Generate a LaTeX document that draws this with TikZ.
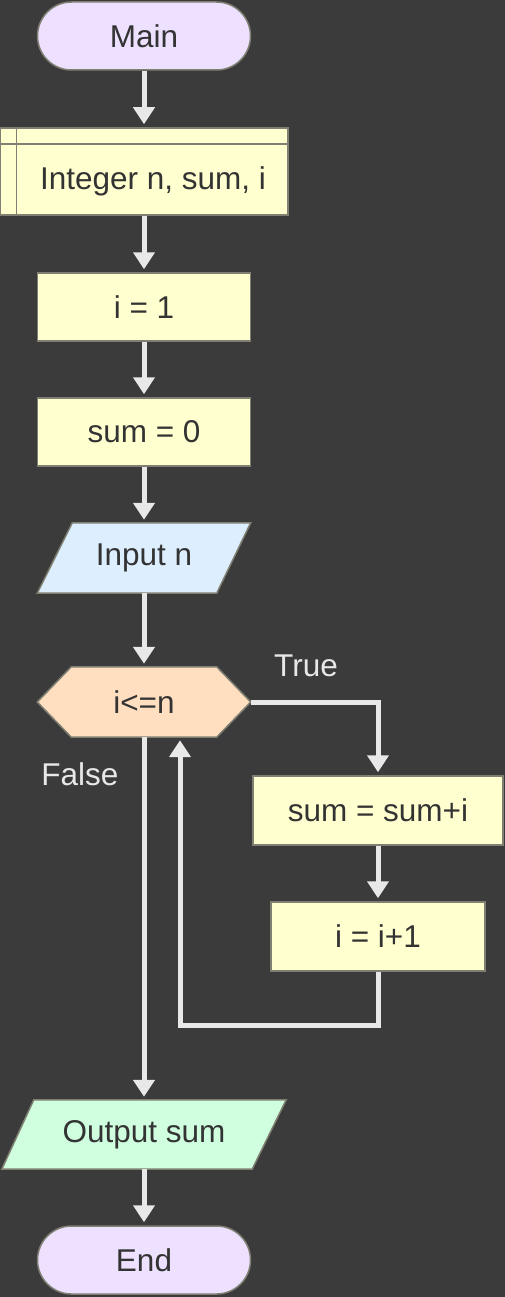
\documentclass[tikz,border=0pt]{standalone}
\usepackage{fontspec}
\setmainfont{Liberation Sans}
\usetikzlibrary{calc,arrows.meta}
\definecolor{bg}{HTML}{3B3B3B}
\definecolor{termfill}{HTML}{EEE0FF}
\definecolor{procfill}{HTML}{FFFFCF}
\definecolor{infill}{HTML}{DDEEFF}
\definecolor{condfill}{HTML}{FFDFC0}
\definecolor{outfill}{HTML}{D0FFE0}
\definecolor{edge}{HTML}{7F7F72}
\definecolor{txt}{HTML}{333333}
\definecolor{linec}{HTML}{E8E8E8}
\pgfdeclarelayer{bglayer}
\pgfdeclarelayer{shapelayer}
\pgfsetlayers{bglayer,shapelayer,main}
\tikzset{
  box/.style={draw=edge, line width=1.5pt, fill=procfill, minimum width=213pt, minimum height=68pt, inner sep=0pt, text=txt},
  term/.style={box, rounded corners=34pt, fill=termfill},
  holder/.style={minimum width=213pt, minimum height=70pt, inner sep=0pt, text=txt},
  shapeline/.style={draw=edge, line width=1.5pt},
  flow/.style={draw=linec, line width=5pt, shorten >=3pt, -{Triangle[width=21pt,length=17pt]}},
  lbl/.style={text=linec}
}
\begin{document}
\begin{tikzpicture}[x=1pt,y=-1pt,font=\fontsize{31.5}{37}\selectfont]
\begin{pgfonlayer}{bglayer}
\fill[bg] (0,0) rectangle (505,1297);
\end{pgfonlayer}
\useasboundingbox (0,0) rectangle (505,1297);

\node[term] (main) at (144,36) {Main};

\node[box, minimum width=288pt, minimum height=87pt] (decl) at (144,171.5) {};
\draw[shapeline] ($(decl.north west)+(17,0)$) -- ($(decl.south west)+(17,0)$);
\draw[shapeline] ($(decl.north west)+(0,17)$) -- ($(decl.north east)+(0,17)$);
\node[text=txt] (decltext) at (153,181) {Integer n, sum, i};

\node[box] (i1) at (144,307) {i = 1};
\node[box] (sum0) at (144,432) {sum = 0};

\node[holder] (inp) at (144,558) {Input n};
\begin{pgfonlayer}{shapelayer}
\filldraw[shapeline, fill=infill] ($(inp.north west)+(35,0)$) -- (inp.north east) -- ($(inp.south east)+(-34,0)$) -- (inp.south west) -- cycle;
\end{pgfonlayer}

\node[holder] (cond) at (144,702) {i<=n};
\begin{pgfonlayer}{shapelayer}
\filldraw[shapeline, fill=condfill] (cond.west) -- ($(cond.north west)+(34,0)$) -- ($(cond.north east)+(-34,0)$) -- (cond.east) -- ($(cond.south east)+(-34,0)$) -- ($(cond.south west)+(34,0)$) -- cycle;
\end{pgfonlayer}

\node[box, minimum width=250pt, minimum height=69pt] (s2) at (378,810.5) {sum = sum+i};
\node[box, minimum width=214pt, minimum height=69pt] (i2) at (378,936.5) {i = i+1};

\node[holder, minimum width=284pt, minimum height=69pt] (out) at (144,1134.5) {Output sum};
\begin{pgfonlayer}{shapelayer}
\filldraw[shapeline, fill=outfill] ($(out.north west)+(32,0)$) -- (out.north east) -- ($(out.south east)+(-34,0)$) -- (out.south west) -- cycle;
\end{pgfonlayer}

\node[term] (stop) at (144,1260) {End};

\node[lbl] (truelbl) at (306,666) {True};
\node[lbl] (falselbl) at (80,774) {False};

\coordinate (loopin) at ($(cond.south)+(36,0)$);
\coordinate (loopb) at (180,1025);

\draw[flow] (main.south) -- (decl.north);
\draw[flow] (decl.south) -- (i1.north);
\draw[flow] (i1.south) -- (sum0.north);
\draw[flow] (sum0.south) -- (inp.north);
\draw[flow] (inp.south) -- (cond.north);
\draw[flow] (cond.east) -| (s2.north);
\draw[flow] (s2.south) -- (i2.north);
\draw[flow] (i2.south) |- (loopb) -- (loopin);
\draw[flow] (cond.south) -- (out.north);
\draw[flow] (out.south) -- (stop.north);
\end{tikzpicture}
\end{document}
